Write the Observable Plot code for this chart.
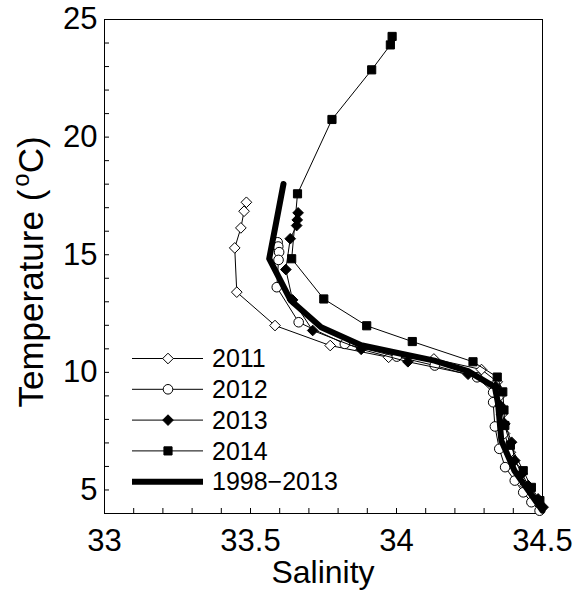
<!DOCTYPE html>
<html>
<head>
<meta charset="utf-8">
<script src="https://cdn.jsdelivr.net/npm/d3@7"></script>
<script src="https://cdn.jsdelivr.net/npm/@observablehq/plot@0.6"></script>
<style>
  html, body { margin: 0; padding: 0; background: #fff; }
  svg { display: block; }
</style>
</head>
<body>
<div id="chart"></div>
<script>
// ---- data (salinity, temperature °C) ----
const sal2011 = [33.486, 33.478, 33.467, 33.446, 33.453, 33.584, 33.773, 33.973, 34.128, 34.291, 34.345, 34.355, 34.360, 34.370, 34.390, 34.410, 34.440, 34.470, 34.495];
const temp2011 = [17.23, 16.85, 16.14, 15.29, 13.41, 11.99, 11.14, 10.64, 10.57, 10.12, 9.60, 9.00, 8.20, 7.40, 6.60, 5.90, 5.20, 4.60, 4.20];

const sal2012 = [33.593, 33.595, 33.598, 33.596, 33.590, 33.665, 33.823, 34.001, 34.131, 34.276, 34.331, 34.331, 34.337, 34.352, 34.372, 34.405, 34.434, 34.462, 34.490];
const temp2012 = [15.53, 15.35, 15.11, 14.78, 13.62, 12.13, 11.21, 10.67, 10.29, 9.79, 9.15, 8.73, 7.70, 6.75, 5.97, 5.40, 4.90, 4.48, 4.12];

const sal2013 = [33.663, 33.660, 33.658, 33.636, 33.621, 33.644, 33.713, 33.879, 34.039, 34.245, 34.340, 34.355, 34.371, 34.394, 34.405, 34.430, 34.451, 34.485, 34.502];
const temp2013 = [16.78, 16.48, 16.24, 15.68, 14.37, 13.08, 11.78, 10.98, 10.45, 9.92, 9.40, 8.60, 7.81, 7.03, 6.25, 5.70, 5.19, 4.62, 4.27];

const sal2014 = [33.985, 33.979, 33.915, 33.779, 33.661, 33.641, 33.751, 33.898, 34.054, 34.262, 34.345, 34.364, 34.368, 34.371, 34.390, 34.434, 34.462, 34.491];
const temp2014 = [24.28, 23.92, 22.86, 20.75, 17.59, 14.83, 13.12, 11.98, 11.31, 10.45, 9.80, 9.17, 8.40, 7.74, 6.90, 5.82, 5.11, 4.55];

const salMean = [33.613, 33.587, 33.564, 33.638, 33.742, 33.879, 34.016, 34.130, 34.245, 34.337, 34.348, 34.359, 34.404, 34.500];
const tempMean = [18.01, 16.31, 14.83, 13.05, 11.92, 11.15, 10.79, 10.50, 10.05, 9.37, 8.66, 7.10, 5.82, 4.12];

const xTicks = [33, 33.5, 34, 34.5];
const xTickLabels = ["33", "33.5", "34", "34.5"];
const xMinor = d3.range(0, 16).map(i => 33 + i * 0.1);
const yTicks = [5, 10, 15, 20, 25];
const yTickLabels = ["5", "10", "15", "20", "25"];
const yMinor = d3.range(4, 26);

const legendLabels = ["2011", "2012", "2013", "2014", "1998\u22122013"];
const xLabel = "Salinity";
const yLabel = "Temperature (";

// ---- build tables ----
const zip = (s, t) => s.map((v, i) => ({s: v, t: t[i]}));
const d2011 = zip(sal2011, temp2011);
const d2012 = zip(sal2012, temp2012);
const d2013 = zip(sal2013, temp2013);
const d2014 = zip(sal2014, temp2014);
const dMean = zip(salMean, tempMean);

const W = 582, H = 592;
const mL = 104, mR = 40, mT = 19, mB = 79;
const plotW = W - mL - mR, plotH = H - mT - mB;
const font = "'Liberation Sans', Arial, Helvetica, sans-serif";

const series = [
  {data: d2011, symbol: "diamond2", fill: "white", r: 4.8},
  {data: d2012, symbol: "circle", fill: "white", r: 4.8},
  {data: d2013, symbol: "diamond2", fill: "black", r: 4.8},
  {data: d2014, symbol: "square", fill: "black", r: 4.6}
];

const marks = [
  Plot.frame({stroke: "black", strokeWidth: 1}),
  Plot.tickX(xMinor, {x: d => d, insetTop: plotH - 5, stroke: "black"}),
  Plot.tickY(yMinor, {y: d => d, insetRight: plotW - 5, stroke: "black"}),
  Plot.axisX(xTicks, {tickSize: 0, tickPadding: 15, fontSize: 31, tickFormat: d => xTickLabels[xTicks.indexOf(d)], label: null}),
  Plot.axisY(yTicks, {tickSize: 0, tickPadding: 7, fontSize: 31, tickFormat: d => yTickLabels[yTicks.indexOf(d)], label: null})
];
for (const sr of series) {
  marks.push(Plot.line(sr.data, {x: "s", y: "t", stroke: "black", strokeWidth: 1}));
  marks.push(Plot.dot(sr.data, {x: "s", y: "t", symbol: sr.symbol, r: sr.r, fill: sr.fill, stroke: "black", strokeWidth: 1}));
}
marks.push(Plot.line(dMean, {x: "s", y: "t", stroke: "black", strokeWidth: 6, strokeLinejoin: "round"}));

const chart = Plot.plot({
  width: W, height: H,
  marginLeft: mL, marginRight: mR, marginTop: mT, marginBottom: mB,
  x: {domain: [33, 34.5], axis: null},
  y: {domain: [4, 25], axis: null},
  style: {fontFamily: font, background: "white", color: "black", overflow: "visible"},
  marks
});
document.getElementById("chart").appendChild(chart);

// ---- axis titles & legend ----
const svg = d3.select(chart);
svg.append("text")
  .attr("x", mL + plotW / 2).attr("y", 583)
  .attr("text-anchor", "middle")
  .attr("font-family", font).attr("font-size", 32).attr("fill", "black")
  .text(xLabel);

const yl = svg.append("text")
  .attr("transform", "translate(43,272) rotate(-90)")
  .attr("text-anchor", "middle")
  .attr("font-family", font).attr("font-size", 35).attr("fill", "black");
yl.append("tspan").text(yLabel);
yl.append("tspan").attr("font-size", 24).attr("dx", 3).attr("dy", -14).text("o");
yl.append("tspan").attr("dy", 14).text("C)");

const legendSymbols = [
  {symbol: d3.symbolDiamond2, fill: "white", r: 4.8},
  {symbol: d3.symbolCircle, fill: "white", r: 4.8},
  {symbol: d3.symbolDiamond2, fill: "black", r: 4.8},
  {symbol: d3.symbolSquare, fill: "black", r: 4.6},
  null
];
const lg = svg.append("g");
legendLabels.forEach((lab, i) => {
  const y = 358.5 + i * 30.8;
  lg.append("line").attr("x1", 132).attr("x2", 203).attr("y1", y).attr("y2", y)
    .attr("stroke", "black").attr("stroke-width", i === 4 ? 6 : 1);
  const sym = legendSymbols[i];
  if (sym) {
    lg.append("path")
      .attr("transform", `translate(168,${y})`)
      .attr("d", d3.symbol(sym.symbol, Math.PI * sym.r * sym.r)())
      .attr("fill", sym.fill).attr("stroke", "black").attr("stroke-width", 1);
  }
  lg.append("text").attr("x", 212).attr("y", y).attr("dy", "0.35em")
    .attr("text-anchor", "start")
    .attr("font-family", font).attr("font-size", 25).attr("fill", "black")
    .text(lab);
});
</script>
</body>
</html>
